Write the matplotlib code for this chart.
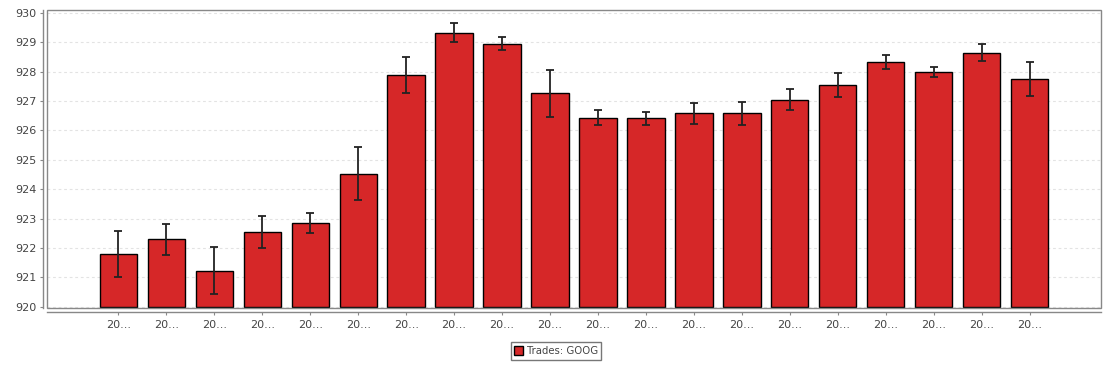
import matplotlib
matplotlib.use("Agg")
import matplotlib.pyplot as plt
from matplotlib.patches import Rectangle
import numpy as np

# Bar values (mean trade price) and error half-widths
labels = ["20..."] * 20
values = [921.80, 922.29, 921.23, 922.53, 922.86, 924.53, 927.90, 929.33, 928.95, 927.26,
          926.43, 926.41, 926.59, 926.58, 927.04, 927.55, 928.33, 927.99, 928.65, 927.76]
errors = [0.78, 0.54, 0.80, 0.54, 0.34, 0.90, 0.61, 0.32, 0.22, 0.81,
          0.25, 0.23, 0.36, 0.40, 0.36, 0.40, 0.25, 0.18, 0.30, 0.58]
series_name = "Trades: GOOG"
y_ticks = list(range(920, 931))

W, H = 1113, 371
fig = plt.figure(figsize=(W / 100, H / 100), dpi=100)
ax = fig.add_axes([47 / W, (H - 308) / H, (1101 - 47) / W, (308 - 10) / H])

x = np.arange(len(values))
base = 920
ax.bar(x, np.array(values) - base, bottom=base, width=0.78, color="#d62728",
       edgecolor="black", linewidth=1.0, zorder=3, label=series_name)
ax.errorbar(x, values, yerr=errors, fmt="none", ecolor="#222222", elinewidth=1.3,
            capsize=3, capthick=1.3, zorder=4)

ax.set_xlim(-1.49, 20.49)
ax.set_ylim(919.955, 930.1)
ax.set_yticks(y_ticks)
ax.set_xticks(x)
ax.set_xticklabels(labels)

ax.grid(axis="y", color="#e3e3e3", linestyle=(0, (2.5, 2.5)), linewidth=0.8, zorder=0)

# frame around the plot area
ax.add_patch(Rectangle((0, 0), 1, 1, transform=ax.transAxes, fill=False,
                       edgecolor="#888888", linewidth=1.0, clip_on=False, zorder=5))

for side in ["top", "right"]:
    ax.spines[side].set_visible(False)
for side in ["left", "bottom"]:
    ax.spines[side].set_position(("outward", 3))
    ax.spines[side].set_color("#888888")
    ax.spines[side].set_linewidth(1.0)

ax.tick_params(axis="both", colors="#888888", labelcolor="#444444", labelsize=8,
               length=2.5, width=0.8)
ax.tick_params(axis="y", pad=2)
ax.tick_params(axis="x", pad=3)

leg = fig.legend(loc="center", bbox_to_anchor=(556 / W, (H - 351) / H), fontsize=7.3,
                 frameon=True, fancybox=False, handlelength=0.9, handleheight=0.9,
                 handletextpad=0.3, borderpad=0.35, borderaxespad=0)
leg.get_frame().set_edgecolor("#555555")
leg.get_frame().set_linewidth(1.0)
for t in leg.get_texts():
    t.set_color("#444444")

fig.savefig("out.png", dpi=100)
